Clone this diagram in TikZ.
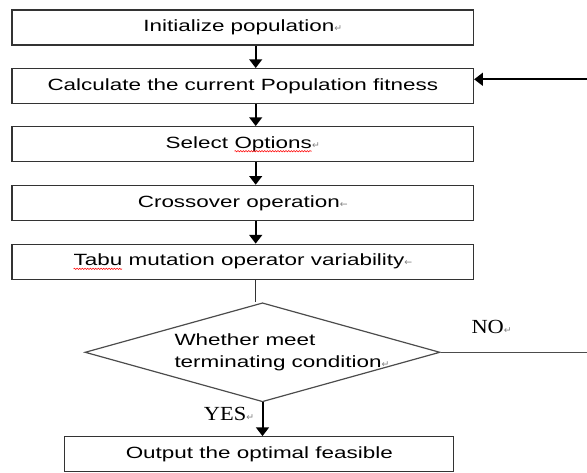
\documentclass[tikz,border=0pt]{standalone}
\usepackage{fontspec}
\usetikzlibrary{arrows.meta,shapes.geometric,positioning,decorations.pathmorphing}
\newfontfamily\boxfont[FakeStretch=1.38]{Liberation Sans}
\newfontfamily\labfont[FakeStretch=1.12]{Liberation Serif}
\newfontfamily\markfont{DejaVu Sans}
\newcommand{\retmark}{{\markfont\fontsize{7}{7}\selectfont\textcolor{gray}{↵}}}
\newcommand{\brkmark}{{\markfont\fontsize{7}{7}\selectfont\textcolor{gray}{←}}}
\newcommand{\spellmark}[1]{\tikz[baseline=(w.base)]{\node[draw=none, minimum width=0pt, minimum height=0pt, inner sep=0pt, outer sep=0pt] (w) {#1};
  \draw[red, line width=0.4pt, decorate, decoration={snake,amplitude=0.5pt,segment length=2pt}] ([yshift=-2.4pt]w.base west) -- ([yshift=-2.4pt]w.base east);}}

\tikzset{every picture/.style={line width=0.75pt}}
\tikzset{
  procbox/.style={draw=black!80, line width=1pt, minimum width=346pt, minimum height=26.25pt, inner sep=0pt, font=\boxfont\fontsize{12.2}{14}\selectfont},
  flow/.style={-{Triangle[width=9.5pt,length=6.5pt]}, line width=1.5pt},
}

\begin{document}
\begin{tikzpicture}[x=0.75pt,y=0.75pt,yscale=-1,xscale=1]
\useasboundingbox (0,0) rectangle (587,473);

% Process boxes
\node [procbox] (init) at (242.8,27.5) {Initialize population\retmark};
\node [procbox] (fit) at (242.8,86.2) {Calculate the current Population fitness};
\node [procbox] (sel) at (242.8,144.2) {Select \spellmark{Options}\retmark};
\node [procbox] (cross) at (242.8,202.9) {Crossover operation\brkmark};
\node [procbox] (mut) at (242.8,261.8) {\spellmark{Tabu} mutation operator variability\brkmark};
% Decision
\node [diamond, draw=black!70, line width=0.9pt, minimum width=266.25pt, minimum height=74.25pt, inner sep=0pt] (cond) at (262.5,352.3) {};
\node [anchor=west, align=left, inner sep=0pt, font=\boxfont\fontsize{12.2}{16.5}\selectfont] (condtxt) at (174,352.3) {Whether meet\\terminating condition\retmark};
% Output
\node [procbox, minimum width=291.75pt] (out) at (259.3,454.3) {Output the optimal feasible};

% Labels
\node [anchor=west, inner sep=0pt, font=\labfont\fontsize{15}{15}\selectfont] (yes) at (203.5,414) {YES\retmark};
\node [anchor=west, inner sep=0pt, font=\labfont\fontsize{15}{15}\selectfont] (no) at (471,327) {NO\retmark};

% Connections
\coordinate (axis) at (255.7,0);
\coordinate (back) at (587,79.3);
\coordinate (noend) at (587,352.3);
\draw [flow] (init.south -| axis) -- (fit.north -| axis);
\draw [flow] (fit.south -| axis) -- (sel.north -| axis);
\draw [flow] (sel.south -| axis) -- (cross.north -| axis);
\draw [flow] (cross.south -| axis) -- (mut.north -| axis);
\draw [line width=1.1pt, black!80] (mut.south -| axis) -- (axis |- cond.north);
\draw [flow] (cond.south) -- (cond.south |- out.north);
\draw [line width=0.9pt, black!70] (cond.east) -- (noend);
\draw [flow] (back) -- (back -| fit.east);

\end{tikzpicture}
\end{document}
